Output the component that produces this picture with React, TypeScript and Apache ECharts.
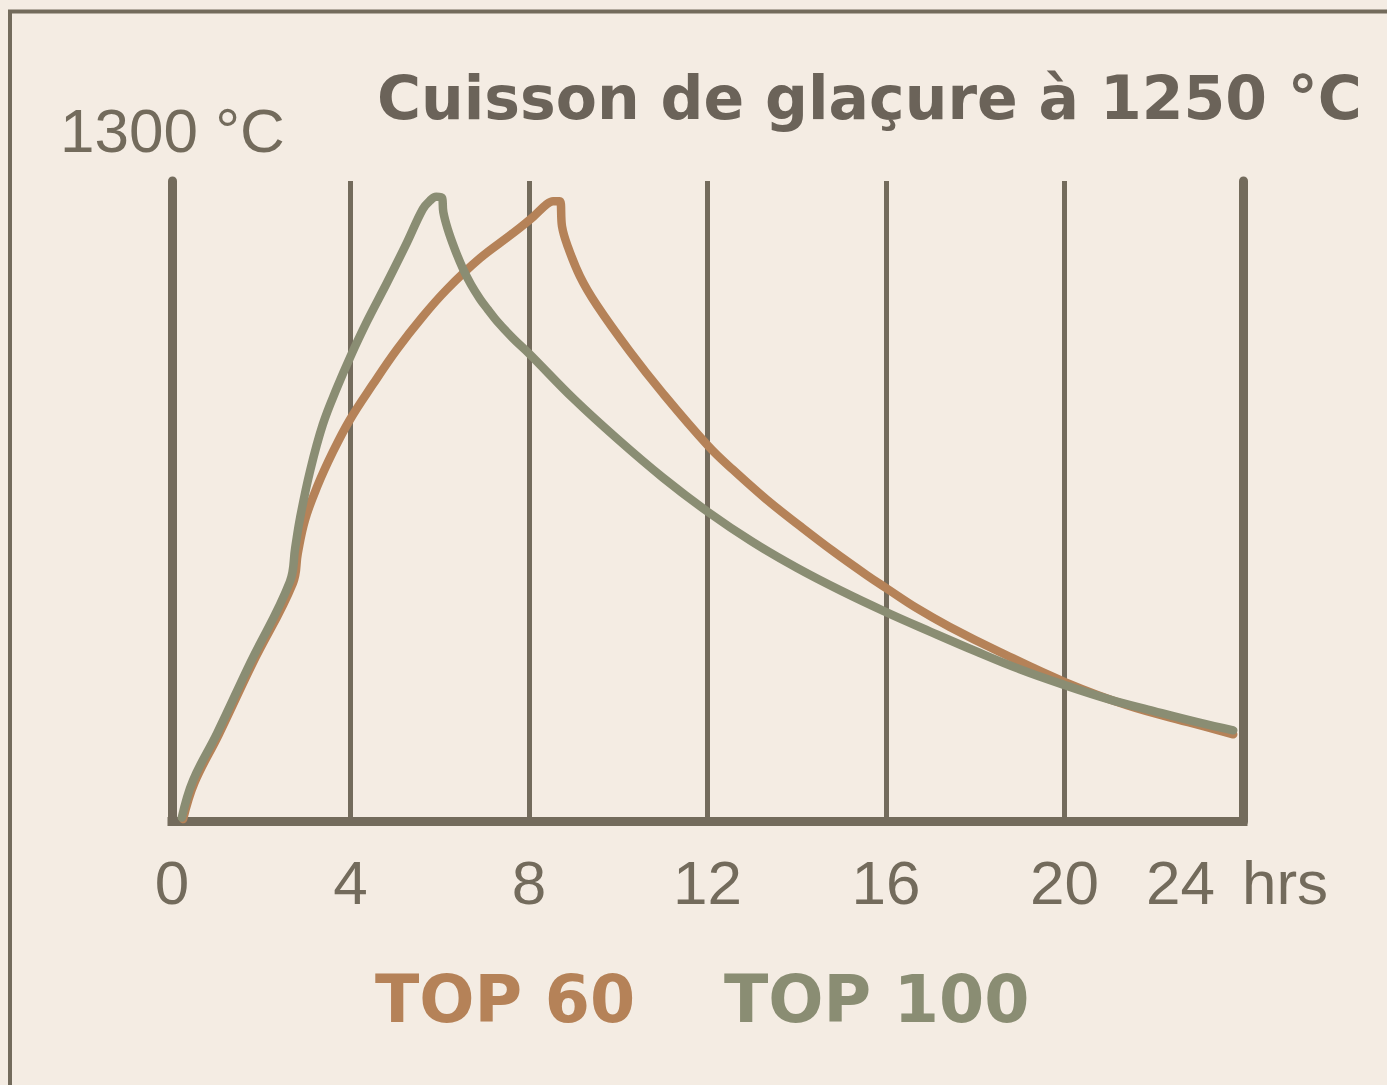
import React, { useEffect, useRef } from "react";
import * as echarts from "echarts";

// ---- data (hours, °C) ----
const xTicks = [0, 4, 8, 12, 16, 20, 24];
const xTickLabels = ["0", "4", "8", "12", "16", "20", "24"];
const xUnit = "hrs";
const yMaxLabel = "1300 °C";
const titleText = "Cuisson de glaçure à 1250 °C";

const top60Hours = [0.25, 0.5, 1.05, 1.8, 2.71, 2.82, 2.98, 3.25, 3.61, 3.99, 4.5, 5.04, 5.62, 6.16, 6.9, 7.64, 8.09, 8.4, 8.54, 8.69, 8.74, 8.85, 9.14, 9.52, 10.26, 11.0, 12.01, 12.57, 13.33, 14.07, 14.81, 15.57, 16.0, 16.69, 17.43, 18.55, 20.01, 21.4, 22.88, 23.78];
const top60Temps = [5, 78, 177, 320, 484, 545, 612, 679, 751, 816, 887, 958, 1025, 1080, 1143, 1194, 1227, 1253, 1259, 1259, 1208, 1172, 1107, 1048, 954, 869, 763, 714, 653, 600, 549, 500, 474, 433, 395, 344, 283, 236, 199, 177];

const top100Hours = [0.22, 0.47, 1.01, 1.75, 2.64, 2.76, 2.87, 3.09, 3.38, 3.7, 3.99, 4.37, 4.82, 5.27, 5.62, 5.78, 5.92, 6.05, 6.08, 6.18, 6.34, 6.52, 6.7, 6.9, 7.08, 7.28, 7.64, 8, 9, 10, 11, 12, 13, 14, 15, 16, 17, 18, 19, 20, 21, 22, 23, 23.78];
const top100Temps = [8, 83, 179, 321, 486, 555, 616, 710, 806, 881, 942, 1015, 1094, 1176, 1243, 1260, 1268, 1266, 1237, 1202, 1161, 1122, 1090, 1061, 1039, 1016, 981, 950, 858, 775, 698, 629, 568, 515, 468, 425, 385, 346, 309, 277, 248, 224, 201, 185];

const seriesNames = ["TOP 60", "TOP 100"];
const seriesColors = ["#B58258", "#8A8D73"];

const AXIS = "#736B5C";
const BG = "#F4ECE3";

export default function App() {
  const ref = useRef<HTMLDivElement>(null);

  useEffect(() => {
    if (!ref.current) return;
    const chart = echarts.init(ref.current, undefined, { renderer: "svg" });
    const top60 = top60Hours.map((h, i) => [h, top60Temps[i]]);
    const top100 = top100Hours.map((h, i) => [h, top100Temps[i]]);

    const yAxisBase = {
      type: "value",
      min: 0,
      max: 1300,
      interval: 1300,
      axisLabel: { show: false },
      axisTick: { show: false },
      splitLine: { show: false },
      axisLine: { show: true, lineStyle: { color: AXIS, width: 9 } },
    };

    const lineSeries = (idx: number, data: number[][], z: number) => ({
      name: seriesNames[idx],
      type: "line",
      data,
      showSymbol: false,
      symbol: "none",
      smooth: 0.4,
      lineStyle: { color: seriesColors[idx], width: 8.5, cap: "round", join: "round" },
      z,
    });

    chart.setOption({
      animation: false,
      backgroundColor: BG,
      grid: { left: 172, right: 144, top: 181, bottom: 263.5, containLabel: false },
      xAxis: {
        type: "value",
        min: 0,
        max: 24,
        interval: 4,
        axisLine: { show: true, lineStyle: { color: AXIS, width: 9, cap: "square" } },
        axisTick: { show: false },
        splitLine: { show: true, lineStyle: { color: AXIS, width: 5 } },
        axisLabel: {
          show: true,
          margin: 30,
          color: AXIS,
          fontFamily: "Liberation Sans",
          fontSize: 62,
          showMinLabel: true,
          showMaxLabel: true,
          rich: {
            n: { color: AXIS, fontFamily: "Liberation Sans", fontSize: 62 },
            u: { color: AXIS, fontFamily: "Liberation Sans", fontSize: 62, padding: [0, 12, 0, 27] },
          },
          formatter: (v: number) => {
            const i = xTicks.indexOf(v);
            const base = i >= 0 ? xTickLabels[i] : String(v);
            return v === 24 ? "{n|" + base + "}{u|" + xUnit + "}" : base;
          },
        },
      },
      yAxis: [
        { ...yAxisBase, position: "left" },
        { ...yAxisBase, position: "right" },
      ],
      series: [lineSeries(0, top60, 3), lineSeries(1, top100, 4)],
      graphic: [
        {
          type: "rect",
          z: 0,
          shape: { x: 10, y: 11.5, width: 3000, height: 3000 },
          style: { fill: "none", stroke: AXIS, lineWidth: 4 },
        },
        {
          type: "text",
          x: 60,
          y: 130,
          style: {
            text: yMaxLabel,
            fill: AXIS,
            fontFamily: "Liberation Sans",
            fontSize: 62,
            verticalAlign: "middle",
            align: "left",
          },
        },
        {
          type: "text",
          x: 377,
          y: 98,
          style: {
            text: titleText,
            fill: "#6B6359",
            fontFamily: "DejaVu Sans",
            fontWeight: "bold",
            fontSize: 60,
            verticalAlign: "middle",
            align: "left",
          },
        },
        {
          type: "text",
          x: 375,
          y: 999,
          style: {
            text: seriesNames[0],
            fill: seriesColors[0],
            fontFamily: "DejaVu Sans",
            fontWeight: "bold",
            fontSize: 65,
            verticalAlign: "middle",
            align: "left",
          },
        },
        {
          type: "text",
          x: 724,
          y: 999,
          style: {
            text: seriesNames[1],
            fill: seriesColors[1],
            fontFamily: "DejaVu Sans",
            fontWeight: "bold",
            fontSize: 65,
            verticalAlign: "middle",
            align: "left",
          },
        },
      ],
    });

    return () => chart.dispose();
  }, []);

  return (
    <div
      ref={ref}
      style={{ position: "fixed", left: 0, top: 0, width: 1387, height: 1085, background: BG }}
    />
  );
}
